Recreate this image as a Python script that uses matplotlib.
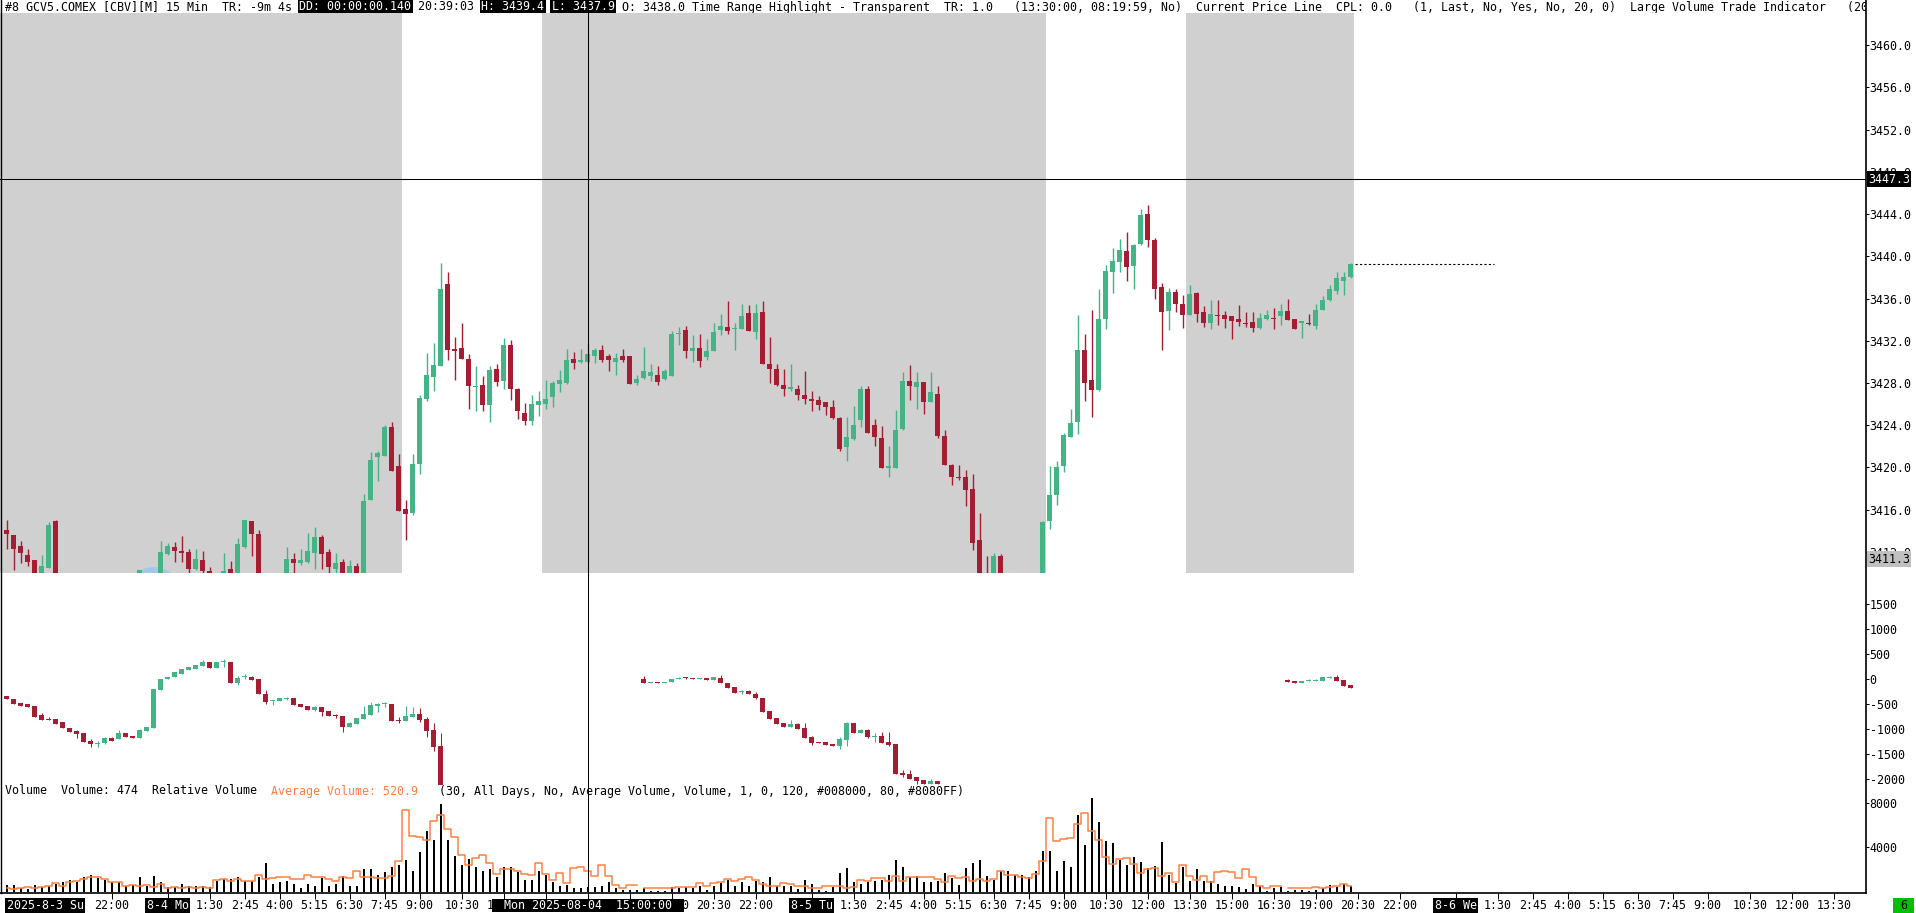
import numpy as np
import matplotlib
matplotlib.use('Agg')
import matplotlib.pyplot as plt
import matplotlib.transforms as mtransforms
from matplotlib.patches import Rectangle, Ellipse
from matplotlib.lines import Line2D

nan = np.nan

# 15 min bars of GCV5, bar 0 = 2025-08-03 18:15, bar 192 = 2025-08-05 20:15
# nan = bar lies completely below the visible price range
price_open = [
    3414.1, 3413.6, 3412.6, 3411.7, 3411.2, 3409.6, 3410.5, 3414.9, nan, nan,
    nan, nan, nan, nan, nan, nan, nan, nan, nan, 3409.0,
    nan, nan, 3409.8, 3411.8, 3412.5, 3412.1, 3412.0, 3410.4, 3411.2, 3410.2,
    nan, 3409.8, 3410.4, 3409.9, 3412.5, 3414.9, 3413.7, nan, nan, nan,
    3409.7, 3411.3, 3410.9, 3411.0, 3411.9, 3413.4, 3412.0, 3410.4, 3411.0, 3410.0,
    3410.7, 3410.0, 3416.9, 3421.0, 3421.1, 3423.8, 3420.1, 3416.1, 3415.7, 3420.3,
    3426.5, 3428.6, 3429.6, 3437.4, 3431.2, 3431.3, 3430.3, 3427.6, 3427.8, 3425.9,
    3429.3, 3428.2, 3431.6, 3427.4, 3425.2, 3424.4, 3425.9, 3426.0, 3426.7, 3427.9,
    3428.0, 3430.3, 3430.0, 3430.0, 3430.6, 3431.1, 3430.6, 3430.0, 3430.6, 3430.6,
    3428.0, 3428.5, 3428.7, 3428.8, 3428.4, 3428.7, 3432.6, 3433.0, 3431.0, 3431.3,
    3430.5, 3431.0, 3433.0, 3433.3, 3433.1, 3433.1, 3434.6, 3432.8, 3434.7, 3429.8,
    3429.3, 3427.8, 3427.4, 3427.4, 3426.9, 3426.5, 3426.4, 3426.2, 3425.7, 3424.7,
    3421.9, 3422.7, 3424.5, 3427.4, 3424.0, 3422.8, 3419.9, 3419.9, 3423.6, 3428.2,
    3427.6, 3428.1, 3426.2, 3427.0, 3423.0, 3420.2, 3419.1, 3419.1, 3418.0, 3413.1,
    3409.8, 3409.7, 3411.6, nan, nan, nan, nan, nan, 3409.5, 3414.9,
    3417.4, 3420.1, 3422.9, 3424.3, 3431.1, 3428.3, 3427.3, 3434.1, 3438.5, 3439.5,
    3440.5, 3439.1, 3441.2, 3444.0, 3441.5, 3437.1, 3434.8, 3436.6, 3435.5, 3434.4,
    3436.5, 3434.7, 3433.7, 3434.4, 3434.4, 3434.3, 3434.1, 3433.7, 3433.8, 3433.2,
    3434.1, 3434.2, 3434.3, 3434.8, 3434.1, 3433.7, 3433.7, 3433.4, 3434.9, 3435.9,
    3436.7, 3437.7, 3438.0]
price_high = [
    3415.0, 3413.6, 3413.0, 3412.3, 3411.2, 3411.7, 3414.8, 3415.0, nan, nan,
    nan, nan, nan, nan, nan, nan, nan, nan, nan, 3410.3,
    nan, nan, 3413.0, 3412.8, 3412.9, 3413.5, 3412.3, 3412.3, 3412.1, 3410.6,
    nan, 3411.9, 3411.1, 3413.3, 3415.0, 3414.9, 3414.1, nan, nan, nan,
    3412.5, 3411.9, 3412.3, 3413.8, 3414.4, 3413.6, 3412.3, 3411.9, 3411.3, 3411.2,
    3410.9, 3417.5, 3421.5, 3421.6, 3424.0, 3424.3, 3421.3, 3416.9, 3421.3, 3426.9,
    3430.8, 3431.8, 3439.4, 3438.5, 3432.4, 3433.7, 3430.7, 3429.6, 3428.7, 3429.6,
    3429.8, 3432.3, 3432.1, 3427.5, 3426.1, 3426.9, 3427.2, 3428.3, 3428.2, 3429.2,
    3431.2, 3430.9, 3431.2, 3431.7, 3431.3, 3431.6, 3430.7, 3430.8, 3431.2, 3430.6,
    3428.8, 3431.4, 3429.8, 3429.6, 3429.3, 3432.9, 3433.3, 3433.4, 3432.5, 3432.6,
    3432.2, 3433.7, 3434.5, 3435.8, 3433.7, 3435.5, 3435.4, 3435.5, 3435.8, 3432.4,
    3429.8, 3429.3, 3429.8, 3427.8, 3429.1, 3427.2, 3426.8, 3426.2, 3426.4, 3424.8,
    3424.8, 3425.8, 3427.7, 3427.7, 3424.6, 3423.9, 3422.0, 3425.4, 3429.0, 3429.7,
    3429.0, 3428.1, 3429.0, 3427.7, 3423.5, 3420.3, 3420.2, 3419.8, 3419.4, 3415.7,
    3411.6, 3411.9, 3411.8, nan, nan, nan, nan, nan, 3414.9, 3420.1,
    3420.6, 3423.3, 3425.5, 3434.4, 3432.6, 3434.9, 3436.9, 3439.2, 3440.8, 3441.6,
    3442.3, 3441.2, 3444.5, 3444.9, 3441.7, 3437.5, 3437.0, 3436.9, 3436.3, 3437.3,
    3436.6, 3435.3, 3435.9, 3435.9, 3434.8, 3434.3, 3435.4, 3434.7, 3434.7, 3434.6,
    3434.9, 3435.1, 3435.5, 3436.0, 3434.1, 3433.9, 3434.5, 3435.5, 3436.2, 3437.3,
    3438.5, 3438.5, 3439.4]
price_low = [
    3412.3, 3410.3, 3410.9, 3410.7, 3409.0, 3409.0, 3410.5, 3407.5, nan, nan,
    nan, nan, nan, nan, nan, nan, nan, nan, nan, 3408.8,
    nan, nan, 3409.5, 3411.7, 3411.0, 3411.0, 3410.0, 3410.3, 3409.9, 3409.5,
    nan, 3409.6, 3409.6, 3409.7, 3412.4, 3411.6, 3409.0, nan, nan, nan,
    3409.5, 3409.7, 3410.8, 3410.9, 3410.4, 3410.4, 3409.8, 3409.8, 3409.6, 3409.9,
    3409.8, 3410.0, 3416.9, 3418.7, 3421.1, 3419.7, 3415.9, 3413.1, 3415.5, 3419.4,
    3426.3, 3427.2, 3429.6, 3430.2, 3428.3, 3430.3, 3425.5, 3425.3, 3425.3, 3424.3,
    3427.7, 3427.4, 3426.4, 3424.6, 3424.0, 3424.0, 3424.9, 3425.5, 3425.7, 3427.1,
    3427.9, 3429.3, 3429.9, 3429.9, 3429.9, 3430.0, 3429.1, 3428.8, 3430.0, 3427.9,
    3427.8, 3428.4, 3428.2, 3427.8, 3428.3, 3428.7, 3431.6, 3430.4, 3430.0, 3429.5,
    3430.2, 3431.0, 3432.5, 3432.6, 3431.1, 3433.1, 3432.9, 3432.2, 3429.8, 3428.0,
    3427.7, 3426.8, 3427.2, 3426.4, 3426.0, 3425.3, 3425.4, 3425.0, 3424.6, 3421.6,
    3420.6, 3422.6, 3423.8, 3423.3, 3422.0, 3419.9, 3419.1, 3419.9, 3423.5, 3426.4,
    3425.5, 3425.1, 3426.2, 3422.8, 3420.2, 3418.3, 3418.8, 3416.3, 3412.2, 3408.5,
    3409.3, 3409.5, 3409.3, nan, nan, nan, nan, nan, 3409.3, 3414.2,
    3416.4, 3419.6, 3422.9, 3423.2, 3426.3, 3424.8, 3427.2, 3433.1, 3436.5, 3438.5,
    3437.7, 3436.9, 3441.1, 3440.9, 3436.0, 3431.1, 3433.0, 3434.7, 3433.2, 3434.4,
    3433.8, 3433.3, 3433.1, 3433.5, 3433.2, 3432.2, 3433.4, 3433.3, 3432.8, 3433.1,
    3434.0, 3433.1, 3433.5, 3434.0, 3433.1, 3432.3, 3433.5, 3433.1, 3434.9, 3435.8,
    3436.4, 3436.3, 3437.9]
price_close = [
    3413.7, 3412.3, 3411.9, 3411.0, 3409.5, 3410.7, 3414.5, 3408.0, nan, nan,
    nan, nan, nan, nan, nan, nan, nan, nan, nan, 3410.3,
    nan, nan, 3412.0, 3412.6, 3412.1, 3411.9, 3410.4, 3411.3, 3410.2, 3409.7,
    nan, 3410.2, 3409.8, 3412.7, 3415.0, 3413.7, 3409.5, nan, nan, nan,
    3411.3, 3410.9, 3411.2, 3412.1, 3413.4, 3411.8, 3410.6, 3410.9, 3409.8, 3410.7,
    3410.0, 3416.8, 3420.7, 3421.4, 3423.8, 3419.7, 3415.9, 3415.6, 3420.3, 3426.6,
    3428.8, 3429.7, 3436.9, 3431.1, 3431.0, 3430.3, 3427.7, 3427.7, 3425.9, 3429.2,
    3428.1, 3431.6, 3427.4, 3425.3, 3424.4, 3426.0, 3426.3, 3426.5, 3428.0, 3428.3,
    3430.2, 3429.9, 3430.2, 3430.7, 3431.1, 3430.2, 3430.2, 3430.4, 3430.2, 3427.9,
    3428.4, 3429.1, 3429.0, 3428.1, 3429.1, 3432.6, 3432.7, 3431.0, 3431.3, 3430.1,
    3431.0, 3432.8, 3433.4, 3432.9, 3433.2, 3434.3, 3432.9, 3434.6, 3429.8, 3429.3,
    3427.8, 3427.4, 3427.6, 3426.9, 3426.5, 3426.3, 3425.9, 3425.7, 3424.7, 3421.7,
    3422.9, 3424.0, 3427.4, 3423.3, 3422.9, 3419.9, 3420.1, 3423.5, 3428.2, 3427.7,
    3428.1, 3426.2, 3427.1, 3423.0, 3420.2, 3419.1, 3419.0, 3417.9, 3412.8, 3409.0,
    3409.6, 3411.6, 3409.6, nan, nan, nan, nan, nan, 3414.8, 3417.4,
    3420.0, 3423.1, 3424.2, 3431.1, 3428.0, 3427.3, 3434.1, 3438.6, 3439.6, 3440.6,
    3439.0, 3441.1, 3443.9, 3441.5, 3436.9, 3434.7, 3436.6, 3435.5, 3434.4, 3436.4,
    3434.5, 3433.7, 3434.5, 3434.3, 3434.1, 3433.9, 3433.8, 3433.6, 3433.2, 3434.2,
    3434.4, 3434.1, 3434.8, 3434.0, 3433.1, 3433.9, 3433.6, 3434.9, 3435.9, 3436.9,
    3437.9, 3438.0, 3439.3]

# middle study (candles), nan = outside the visible range
delta_open = [
    -334, -401, -467, -500, -534, -714, -787, -794, -861, -967,
    -1027, -1074, -1227, -1294, -1281, -1167, -1201, -1081, -1127, -1167,
    -1027, -967, -214, -1, 53, 113, 193, 213, 273, 339,
    233, 353, 353, -67, 46, 53, 6, -294, -441, -434,
    -387, -374, -494, -534, -614, -561, -634, -707, -734, -947,
    -901, -794, -714, -527, -501, -494, -807, -827, -747, -694,
    -794, -1014, -1334] + [nan] * 28 + [
    0, -81, -47, -67, -54, 13, 26, 20, 13,
    20, -7, 20, -74, -147, -261, -234, -294, -367, -634,
    -781, -867, -947, -894, -967, -1154, -1247, -1261, -1287, -1327,
    -1214, -868, -1067, -1014, -1147, -1134, -1247, -1294, -1867, -1894,
    -1961, -2014, -2094, -2034] + [nan] * 49 + [
    -7, -34, -67, -41, -27, -27, 26, 40, -14, -114]
delta_high = [
    -334, -401, -467, -500, -534, -681, -747, -794, -861, -967,
    -1014, -1074, -1201, -1234, -1147, -1147, -1014, -1081, -1127, -994,
    -961, -201, -1, 53, 146, 199, 239, 293, 386, 339,
    353, 399, 353, 73, 106, 73, 6, -214, -414, -374,
    -347, -374, -494, -534, -534, -547, -634, -694, -734, -847,
    -781, -534, -447, -467, -447, -494, -747, -534, -547, -581,
    -747, -881, -1081] + [nan] * 28 + [
    66, -47, -47, -47, 13, 40, 40, 26, 33,
    20, 40, 86, -74, -147, -207, -207, -247, -367, -634,
    -781, -867, -821, -874, -867, -1134, -1247, -1261, -1287, -1161,
    -848, -868, -1001, -1001, -1081, -1047, -1047, -1294, -1814, -1814,
    -1947, -2014, -2001, -2034] + [nan] * 49 + [
    6, -34, -34, 6, 6, 40, 66, 86, -14, -114]
delta_low = [
    -401, -494, -527, -547, -747, -814, -814, -887, -981, -1061,
    -1167, -1247, -1361, -1361, -1294, -1227, -1201, -1147, -1167, -1181,
    -1027, -967, -214, -1, 53, 113, 193, 213, 273, 219,
    233, 253, -67, -114, 6, -21, -301, -494, -514, -434,
    -414, -514, -547, -607, -627, -727, -727, -767, -1047, -947,
    -901, -794, -714, -647, -561, -834, -881, -827, -747, -847,
    -1147, -1427, -2300] + [nan] * 28 + [
    -81, -81, -67, -67, -54, 0, 6, 6, 0,
    -7, -7, -81, -167, -267, -301, -301, -394, -647, -787,
    -894, -947, -947, -987, -1167, -1314, -1274, -1314, -1334, -1394,
    -1328, -1067, -1067, -1181, -1248, -1267, -1328, -1901, -1961, -1994,
    -2094, -2094, -2101, -2101] + [nan] * 49 + [
    -47, -67, -67, -41, -27, -27, 26, -34, -127, -167]
delta_close = [
    -401, -494, -527, -547, -747, -814, -807, -887, -981, -1061,
    -1094, -1247, -1294, -1267, -1174, -1227, -1067, -1147, -1167, -1014,
    -961, -201, -1, 53, 146, 199, 239, 293, 353, 219,
    353, 366, -67, 33, 73, -7, -301, -447, -414, -374,
    -374, -514, -547, -607, -554, -647, -727, -734, -947, -881,
    -781, -701, -514, -494, -487, -834, -827, -734, -694, -814,
    -1027, -1347, -2300] + [nan] * 28 + [
    -81, -47, -67, -47, 13, 26, 20, 13, 20,
    -7, 40, -81, -167, -267, -227, -301, -381, -647, -787,
    -894, -947, -894, -987, -1167, -1281, -1274, -1314, -1334, -1194,
    -868, -1067, -1014, -1161, -1127, -1267, -1314, -1901, -1914, -1994,
    -2027, -2094, -2027, -2101] + [nan] * 49 + [
    -47, -67, -34, -14, -14, 40, 46, -34, -127, -167]

volume = [
    600, 600, 300, 240, 600, 390, 540, 690, 840, 1080,
    900, 1290, 1530, 1200, 1050, 900, 840, 540, 600, 1350,
    540, 1440, 900, 390, 390, 690, 540, 540, 480, 390,
    990, 1140, 1140, 1290, 990, 990, 1290, 2590, 690, 840,
    990, 690, 330, 690, 540, 1230, 540, 690, 1440, 540,
    540, 2040, 2040, 1500, 1740, 2250, 2440, 2850, 1890, 3550,
    5500, 4690, 7900, 4690, 3180, 2410, 2940, 2190, 1890, 2040,
    1350, 2250, 2190, 1800, 1080, 1080, 1890, 1500, 840, 540,
    630, 330, 330, 390, 390, 480, 840, 300, 150, 150,
    150, 330, 90, 90, 90, 390, 330, 390, 330, 480,
    180, 480, 780, 1050, 540, 840, 540, 930, 840, 1290,
    540, 540, 540, 240, 1080, 690, 180, 90, 390, 1650,
    2100, 840, 690, 900, 990, 1080, 1530, 2880, 2190, 1290,
    1380, 840, 900, 930, 1650, 1200, 630, 2130, 2560, 2880,
    1440, 1050, 1830, 1890, 1530, 1530, 1290, 1890, 3640, 3640,
    1830, 2800, 2250, 6940, 4240, 8410, 6250, 4600, 4360, 2880,
    2410, 3100, 2710, 2130, 2340, 4510, 1530, 780, 2250, 990,
    2040, 930, 990, 690, 540, 540, 390, 240, 690, 480,
    90, 330, 390, 90, 180, 180, 60, 180, 330, 630,
    390, 690, 474]
avg_volume = [
    330, 240, 330, 390, 330, 450, 480, 780, 540, 840,
    930, 1140, 1290, 1290, 1140, 840, 840, 540, 630, 540,
    630, 390, 690, 330, 390, 330, 390, 330, 390, 330,
    1080, 1140, 990, 1140, 990, 990, 1500, 1140, 1200, 1350,
    1350, 1140, 1140, 1500, 1350, 1350, 1140, 990, 1350, 1200,
    1890, 1350, 1290, 1230, 1230, 1440, 2800, 7360, 5050, 4960,
    4660, 6400, 6910, 5650, 4960, 3340, 2440, 3040, 3340, 2590,
    1590, 2040, 2040, 1830, 1590, 1530, 2590, 1590, 1080, 1680,
    780, 2130, 2250, 1830, 1380, 2410, 1440, 600, 330, 600,
    600, 330, 330, 330, 330, 330, 450, 450, 390, 780,
    480, 780, 840, 1140, 930, 1140, 1290, 1080, 690, 540,
    540, 780, 690, 540, 480, 330, 330, 480, 480, 540,
    330, 450, 1080, 990, 1230, 1230, 990, 1440, 990, 1350,
    1290, 1290, 1290, 1140, 840, 1440, 1230, 1350, 990, 1140,
    930, 1140, 1830, 1530, 1530, 1350, 1230, 1590, 2740, 6640,
    4540, 4750, 4840, 6100, 7090, 5500, 4660, 3100, 2500, 2940,
    3000, 2500, 1650, 2040, 2100, 1440, 1650, 840, 2440, 1440,
    1080, 1440, 840, 1800, 1890, 1740, 1230, 2040, 1290, 540,
    330, 540, 480, 330, 330, 330, 330, 390, 330, 390,
    480, 690, 521]
session_start = [0, 91, 183]   # first bar after each daily break

# time range highlight 13:30 -> 08:19:59 (in bars)
band_start = [-2.0, 76.5, 168.5]
band_end = [56.5, 148.5, 192.5]

# time scale (labels hidden under the crosshair box are left out)
time_bars = [15, 23, 29, 34, 39, 44, 49, 54, 59, 65, 71, 95, 101, 107,
             115, 121, 126, 131, 136, 141, 146, 151, 157, 163, 169, 175, 181, 187, 193, 199,
             207, 213, 218, 223, 228, 233, 238, 243, 249, 255, 261]
time_labels = ['22:00', '8-4 Mo', '1:30', '2:45', '4:00', '5:15', '6:30', '7:45', '9:00',
               '10:30', '12:00', '19:00', '20:30', '22:00',
               '8-5 Tu', '1:30', '2:45', '4:00', '5:15', '6:30', '7:45', '9:00', '10:30',
               '12:00', '13:30', '15:00', '16:30', '19:00', '20:30', '22:00',
               '8-6 We', '1:30', '2:45', '4:00', '5:15', '6:30', '7:45', '9:00', '10:30',
               '12:00', '13:30']
hidden_tick_bars = [77, 83, 89]
first_date = '2025-8-3 Su'

cross_bar = 83            # crosshair at Mon 2025-08-04 15:00
cross_price = 3447.3
marker_price = 3411.3
cpl_bars = 20             # current price line extension
lvt_bar, lvt_price = 21.0, 3407.7   # large volume trade bubble

header = [('#8 GCV5.COMEX [CBV][M] 15 Min  TR: -9m 4s ', False),
          ('DD: 00:00:00.140', True), (' 20:39:03 ', False),
          ('H: 3439.4', True), (' ', False), ('L: 3437.9', True),
          (' O: 3438.0 Time Range Highlight - Transparent  TR: 1.0   (13:30:00, 08:19:59, No)'
           '  Current Price Line  CPL: 0.0   (1, Last, No, Yes, No, 20, 0)'
           '  Large Volume Trade Indicator   (20', False)]

GREEN = '#44b386'
RED = '#a61c31'
BAND = '#d0d0d0'
ORANGE = '#ff8040'
FS = 8.38
CW = FS / 72 * 100 * 1233 / 2048   # monospace char width in px

plt.rcParams['font.family'] = ['DejaVu Sans Mono']
plt.rcParams['axes.unicode_minus'] = False

W, H = 1916, 913
fig = plt.figure(figsize=(W / 100, H / 100), dpi=100)


def px_rect(x0, y0, x1, y1):
    return [x0 / W, 1 - y1 / H, (x1 - x0) / W, (y1 - y0) / H]


ax_p = fig.add_axes(px_rect(0, 13, 1866, 573))
ax_d = fig.add_axes(px_rect(0, 573, 1866, 785))
ax_v = fig.add_axes(px_rect(0, 785, 1866, 893))

n = len(price_open)
idx = np.arange(n)


def candles(ax, o, h, l, c, body_w, wick_w, min_h):
    o, h, l, c = (np.asarray(a, dtype=float) for a in (o, h, l, c))
    ok = ~np.isnan(o)
    col = np.where(c >= o, GREEN, RED)
    ax.vlines(idx[ok], l[ok], h[ok], colors=col[ok], linewidth=wick_w, zorder=3)
    ax.bar(idx[ok], np.maximum(np.abs(c - o), min_h)[ok], bottom=np.minimum(o, c)[ok],
           width=body_w, color=col[ok], linewidth=0, zorder=4)


# price panel
for a, b in zip(band_start, band_end):
    ax_p.axvspan(a, b, color=BAND, lw=0, zorder=0)
ax_p.add_patch(Ellipse((lvt_bar, lvt_price), 8.6, 5.7, fc='#a3c6ea', ec='none', zorder=2))
candles(ax_p, price_open, price_high, price_low, price_close, 0.68, 1.0, 0.1)
ax_p.hlines(price_close[-1], n - 0.4, n - 0.5 + cpl_bars, colors='black',
            linestyles=(0, (2, 2)), lw=0.8, zorder=5)
ax_p.axhline(cross_price, color='black', lw=0.75, zorder=6)
ax_p.set_ylim(3410.0, 3463.05)
ax_p.set_yticks(np.arange(3412, 3461, 4))
ax_p.yaxis.set_major_formatter('{x:.1f}')

# study panel
candles(ax_d, delta_open, delta_high, delta_low, delta_close, 0.64, 0.75, 20)
ax_d.set_ylim(-2114, 2126)
ax_d.set_yticks(np.arange(-2000, 1501, 500))

# volume panel
ax_v.bar(idx, volume, width=0.3, color='black', linewidth=0)
ends = session_start[1:] + [n]
for s, e in zip(session_start, ends):
    ax_v.step(idx[s:e], avg_volume[s:e], where='mid', color=ORANGE, lw=1.1)
ax_v.set_ylim(-117, 9614)
ax_v.set_yticks([4000, 8000])

for ax in (ax_p, ax_d, ax_v):
    ax.set_xlim(-0.957, 265.61)
    for s in ax.spines.values():
        s.set_visible(False)
    ax.patch.set_visible(False)
    ax.yaxis.tick_right()
    ax.tick_params(axis='y', length=2.2, width=0.75, pad=0.4, labelsize=FS, colors='black')
    ax.tick_params(axis='x', bottom=False, labelbottom=False)
ax_v.set_xticks(sorted(time_bars + hidden_tick_bars))
ax_v.tick_params(axis='x', bottom=True, length=4, width=0.75, direction='out', labelbottom=False)

# header line (clipped at the price scale)
ax_h = fig.add_axes(px_rect(0, 0, 1866, 13))
ax_h.set_xlim(0, 1866)
ax_h.set_ylim(13, 0)
ax_h.axis('off')
pos = 5
for txt, boxed in header:
    ax_h.text(pos, 7, txt, ha='left', va='center', fontsize=FS,
              color='white' if boxed else 'black', clip_on=True,
              bbox=dict(boxstyle='square,pad=0.15', fc='black', ec='none') if boxed else None)
    pos += len(txt) * CW

# overlay in pixel coordinates
ax_o = fig.add_axes([0, 0, 1, 1])
ax_o.set_xlim(0, W)
ax_o.set_ylim(H, 0)
ax_o.axis('off')
bx = mtransforms.blended_transform_factory(ax_v.transData, ax_o.transData)
by = mtransforms.blended_transform_factory(ax_o.transData, ax_p.transData)

# frame
ax_o.plot([1866, 1866], [0, 893], color='black', lw=1.2)
ax_o.plot([0, 1866], [893, 893], color='black', lw=1.2)
ax_o.plot([0.6, 0.6], [0, 893], color='black', lw=1.0)

# volume legend
legend = [('Volume  Volume: 474  Relative Volume  ', 'black'),
          ('Average Volume: 520.9', ORANGE),
          ('   (30, All Days, No, Average Volume, Volume, 1, 0, 120, #008000, 80, #8080FF)', 'black')]
pos = 5
for txt, col in legend:
    ax_o.text(pos, 791, txt, ha='left', va='center', fontsize=FS, color=col)
    pos += len(txt) * CW

# time scale
black_box = dict(boxstyle='square,pad=0.12', fc='black', ec='none')
ax_o.text(0, 905.5, first_date, transform=bx, ha='left', va='center', fontsize=FS,
          color='white', bbox=black_box)
for b, lab in zip(time_bars, time_labels):
    boxed = ' ' in lab
    ax_o.text(b, 905.5, lab, transform=bx, ha='center', va='center', fontsize=FS,
              color='white' if boxed else 'black', bbox=black_box if boxed else None)

# crosshair
ax_o.add_line(Line2D([cross_bar, cross_bar], [0, 899], transform=bx, color='black', lw=0.75))
ax_o.add_patch(Rectangle((cross_bar - 13.7, 899), 27.4, 13.5, transform=bx,
                         fc='black', ec='none'))
ax_o.text(cross_bar, 905.5, 'Mon 2025-08-04  15:00:00', transform=bx, ha='center',
          va='center', fontsize=FS, color='white')
ax_o.text(1868, cross_price, f'{cross_price:.1f}', transform=by, ha='left', va='center',
          fontsize=FS, color='white',
          bbox=dict(boxstyle='square,pad=0.12', fc='black', ec='none'))
ax_o.text(1868, marker_price, f'{marker_price:.1f}', transform=by, ha='left', va='center',
          fontsize=FS, color='black',
          bbox=dict(boxstyle='square,pad=0.12', fc='#c0c0c0', ec='none'))

# bottom-right marker
ax_o.add_patch(Rectangle((1893, 898), 21, 15, fc='#00c000', ec='none'))
ax_o.text(1903.5, 905.5, '6', ha='center', va='center', fontsize=FS, color='black')

fig.savefig('out.png', dpi=100)
